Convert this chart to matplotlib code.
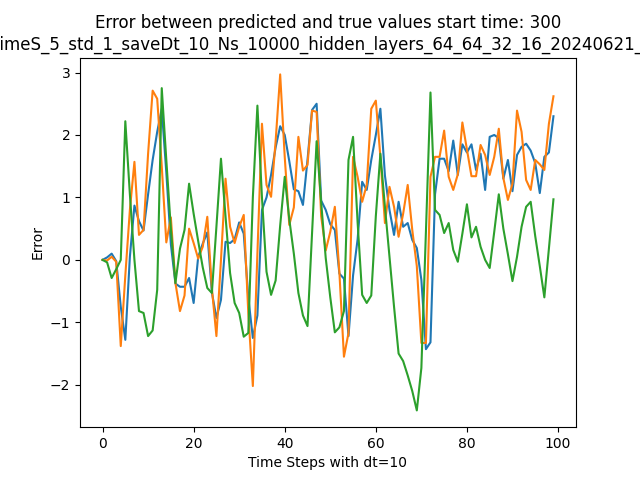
import numpy as np
import matplotlib
matplotlib.use("Agg")
from matplotlib import pyplot as plt

start_time = 300
run_name = ("T_maxtimeS_5_std_1_saveDt_10_Ns_10000_hidden_layers_"
            "64_64_32_16_20240621_1530120")

# errors per output
err_0 = [
    0.0, 0.04, 0.1, -0.02, -0.75, -1.28, 0.05, 0.87, 0.62, 0.47,
    1.05, 1.6, 2.05, 2.42, 1.4, 0.25, -0.38, -0.43, -0.43, -0.29,
    -0.69, 0.05, 0.26, 0.44, -0.52, -0.93, -0.64, 0.29, 0.27, 0.33,
    0.6, 0.42, -0.6, -1.25, -0.89, 0.8, 1.0, 1.36, 1.8, 2.14,
    2.0, 1.58, 1.13, 1.1, 0.88, 1.6, 2.4, 2.5, 0.95, 0.8,
    0.57, 0.48, -0.22, -0.3, -1.22, -0.25, 0.33, 1.25, 1.12, 1.6,
    2.0, 2.42, 1.35, 0.8, 0.4, 0.93, 0.53, 0.59, 0.32, 0.19,
    -0.32, -1.43, -1.32, 1.05, 1.62, 1.62, 1.42, 1.91, 1.36, 1.85,
    1.72, 1.85, 1.44, 1.7, 1.12, 1.97, 2.0, 1.95, 1.3, 1.6,
    1.1, 1.68, 1.81, 1.86, 1.75, 1.55, 1.07, 1.65, 1.72, 2.3,
]
err_1 = [
    0.0, -0.01, 0.05, -0.03, -1.38, -0.25, 0.8, 1.57, 0.4, 0.48,
    1.7, 2.71, 2.58, 1.5, 0.28, 0.68, -0.37, -0.82, -0.57, 0.5,
    0.27, 0.02, 0.21, 0.69, -0.45, -1.22, 0.0, 1.3, 0.53, 0.27,
    0.53, 0.72, -0.85, -2.02, 0.1, 2.18, 1.2, 1.01, 1.9, 2.97,
    1.65, 0.56, 0.84, 1.97, 1.43, 1.52, 2.39, 2.37, 0.7, 0.15,
    0.45, 0.85, -0.2, -1.55, -1.17, 1.65, 1.33, 0.93, 1.2, 2.42,
    2.55, 1.65, 0.59, 1.17, 0.85, 0.37, 0.74, 1.2, 0.48, -0.1,
    -1.33, -1.33, 1.33, 1.65, 1.65, 2.07, 1.33, 1.12, 1.37, 2.2,
    1.77, 1.34, 1.34, 1.84, 1.68, 1.36, 1.65, 2.1, 1.31, 0.96,
    1.22, 2.39, 2.05, 1.28, 1.12, 1.6, 1.53, 1.44, 2.18, 2.62,
]
err_2 = [
    0.0, -0.04, -0.29, -0.15, 0.0, 2.22, 1.05, 0.0, -0.82, -0.85,
    -1.22, -1.13, -0.48, 2.75, 1.6, 0.5, -0.37, 0.18, 0.48, 1.22,
    0.74, 0.3, -0.12, -0.45, -0.53, 0.53, 1.62, 0.7, -0.21, -0.69,
    -0.85, -1.23, -1.17, 1.0, 2.47, 1.0, -0.19, -0.56, -0.33, 0.55,
    1.33, 0.65, 0.1, -0.53, -0.89, -1.06, 0.43, 1.9, 0.92, 0.03,
    -0.6, -1.16, -1.08, -0.82, 1.6, 1.97, 0.6, -0.56, -0.69, -0.57,
    0.7, 1.7, 0.85, 0.05, -0.75, -1.5, -1.62, -1.85, -2.1, -2.41,
    -1.73, 0.45, 2.68, 0.8, 0.72, 0.43, 0.59, 0.16, -0.03, 0.42,
    0.89, 0.36, 0.53, 0.21, 0.0, -0.13, 0.45, 1.05, 0.5, 0.09,
    -0.34, 0.05, 0.53, 0.85, 0.93, 0.38, -0.1, -0.6, 0.18, 0.97,
]

steps = np.arange(len(err_0))

fig = plt.figure()
ax = fig.add_subplot()
for err in (err_0, err_1, err_2):
    ax.plot(steps, err)

ax.set_title(
    "Error between predicted and true values start time: "
    + str(start_time) + "\n" + run_name
)
ax.set_xlabel("Time Steps with dt=10")
ax.set_ylabel("Error")

fig.savefig("out.png")
